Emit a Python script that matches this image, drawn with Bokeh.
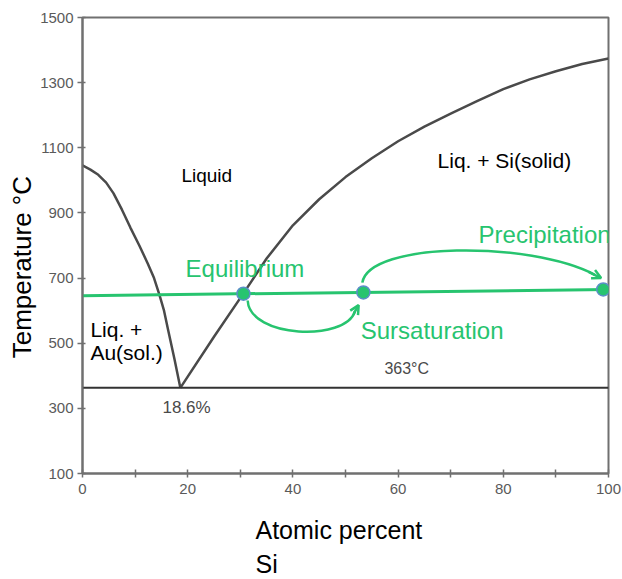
from bokeh.plotting import figure
from bokeh.models import Label, Arrow, OpenHead, FixedTicker, Range1d, Title
from bokeh.embed import file_html
from bokeh.resources import INLINE

# ---- data ----
x_ticks = [0, 20, 40, 60, 80, 100]
x_minor = [10, 30, 50, 70, 90]
y_ticks = [100, 300, 500, 700, 900, 1100, 1300, 1500]

left_liq_x = [0, 1.5, 3.0, 4.5, 5.9, 7.5, 9.1, 10.8, 12.4, 13.6, 14.6, 15.5, 16.3, 17.5, 18.6]
left_liq_t = [1046, 1033, 1017, 993, 960, 910, 855, 800, 745, 700, 650, 600, 539, 450, 363]

right_liq_x = [18.6, 25, 30.6, 35, 40, 45, 50, 55, 60, 65, 70, 75, 80, 85, 90, 95, 100]
right_liq_t = [363, 520, 653, 760, 862, 942, 1010, 1068, 1120, 1165, 1205, 1243, 1280, 1310, 1335, 1357, 1374]

eutectic_x = [0, 100]
eutectic_t = [363, 363]

iso_x = [0, 100]
iso_t = [646, 665]

pts_x = [30.6, 53.4, 99.0]
pts_t = [652, 656, 665]

GREEN = "#27c46f"
GRAY = "#707070"

p = figure(frame_width=526, frame_height=456, output_backend="svg", toolbar_location=None,
           x_range=Range1d(0, 100), y_range=Range1d(100, 1500),
           min_border_left=82, min_border_right=14, min_border_top=17, min_border_bottom=106)
p.background_fill_color = "white"
p.border_fill_color = "white"
p.outline_line_color = GRAY
p.outline_line_width = 2
p.xgrid.visible = False
p.ygrid.visible = False

for ax in (p.xaxis[0], p.yaxis[0]):
    ax.axis_line_color = GRAY
    ax.axis_line_width = 2
    ax.major_tick_line_color = GRAY
    ax.major_tick_line_width = 1.5
    ax.minor_tick_line_color = GRAY
    ax.minor_tick_line_width = 1.5
    ax.major_label_text_font = "Liberation Sans"
    ax.major_label_text_font_size = "15px"
    ax.major_label_text_color = "#5a5a5a"

p.xaxis.ticker = FixedTicker(ticks=x_ticks, minor_ticks=x_minor)
p.xaxis.major_tick_in = 4
p.xaxis.major_tick_out = 4
p.xaxis.minor_tick_in = 4
p.xaxis.minor_tick_out = 4
p.xaxis.major_label_standoff = 6

p.yaxis.ticker = FixedTicker(ticks=y_ticks, minor_ticks=[])
p.yaxis.major_tick_in = 3
p.yaxis.major_tick_out = 5
p.yaxis.major_label_standoff = 4
p.yaxis.axis_label = "Temperature °C" + "\u00a0" * 6
p.yaxis.axis_label_text_font = "Liberation Sans"
p.yaxis.axis_label_text_font_size = "26px"
p.yaxis.axis_label_text_font_style = "normal"
p.yaxis.axis_label_text_color = "black"
p.yaxis.axis_label_standoff = 0

# x axis title (two left-aligned lines)
p.add_layout(Title(text="Atomic percent\nSi", align="left", offset=173, text_font="Liberation Sans",
                   text_font_size="25px", text_font_style="normal", text_color="black",
                   text_line_height=1.22, standoff=35), "below")

# curves
p.line(left_liq_x, left_liq_t, line_color="#4a4a4a", line_width=2.5)
p.line(right_liq_x, right_liq_t, line_color="#4a4a4a", line_width=2.5)
p.line(eutectic_x, eutectic_t, line_color="#333333", line_width=2)
p.line(iso_x, iso_t, line_color=GREEN, line_width=3)

# arrows (curved)
p.bezier(x0=[31.4], y0=[631], x1=[51.8], y1=[598], cx0=[31.8], cy0=[515], cx1=[50.0], cy1=[505],
         line_color=GREEN, line_width=2.5)
p.add_layout(Arrow(end=OpenHead(size=9, line_color=GREEN, line_width=2.5),
                   x_start=51.6, y_start=592, x_end=52.5, y_end=617,
                   line_color=GREEN, line_width=2.5))

p.bezier(x0=[53.2], y0=[686], x1=[97.4], y1=[710], cx0=[54.5], cy0=[812], cx1=[85.0], cy1=[815],
         line_color=GREEN, line_width=2.5)
p.add_layout(Arrow(end=OpenHead(size=9, line_color=GREEN, line_width=2.5),
                   x_start=96.2, y_start=719, x_end=98.6, y_end=700,
                   line_color=GREEN, line_width=2.5))

p.scatter(pts_x, pts_t, size=13, fill_color=GREEN, line_color="#5b8fc7", line_width=1.5)

def lab(x, y, text, size, color="black", align="left"):
    p.add_layout(Label(x=x, y=y, text=text, text_font="Liberation Sans",
                       text_font_size=size, text_color=color, text_align=align,
                       text_baseline="middle"))

lab(18.8, 1015, "Liquid", "19px")
lab(67.5, 1061, "Liq. + Si(solid)", "21px")
lab(1.5, 542, "Liq. +", "21px")
lab(1.5, 472, "Au(sol.)", "21px")
lab(57.4, 422, "363°C", "16px", "#4a4a4a")
lab(15.2, 303, "18.6%", "17px", "#4a4a4a")
lab(19.6, 729, "Equilibrium", "24px", GREEN)
lab(52.9, 539, "Sursaturation", "24px", GREEN)
lab(75.3, 834, "Precipitation", "24px", GREEN)

open("out.html", "w").write(file_html(p, INLINE))
